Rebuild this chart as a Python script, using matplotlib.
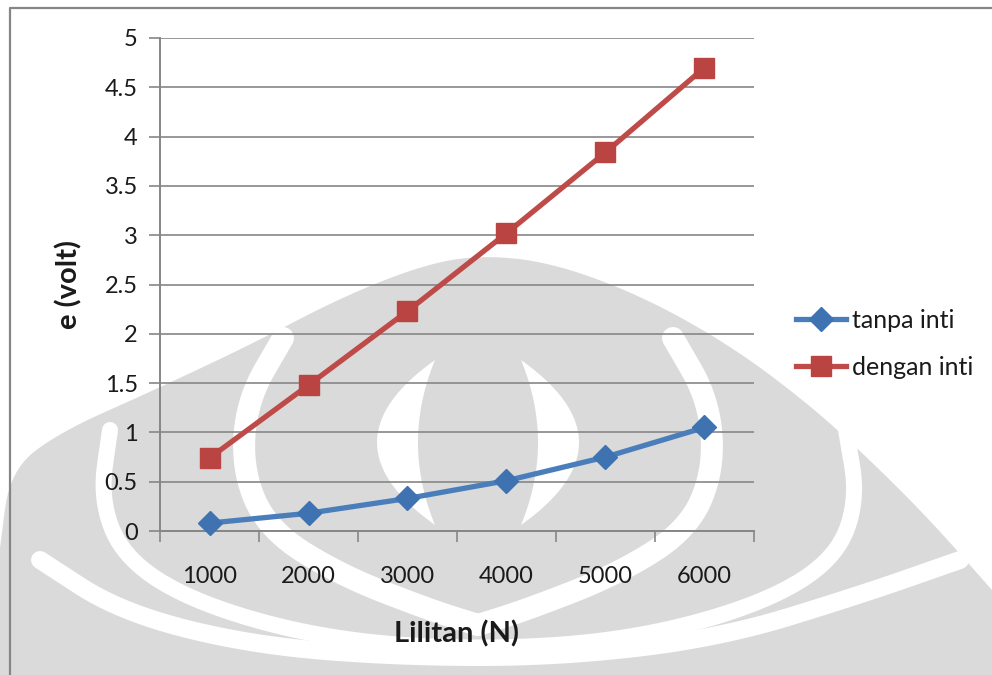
import numpy as np
import matplotlib
matplotlib.use("Agg")
import matplotlib.pyplot as plt
from matplotlib.lines import Line2D

plt.rcParams['font.family'] = ['Lato', 'DejaVu Sans']

# Data
lilitan = ["1000", "2000", "3000", "4000", "5000", "6000"]
tanpa_inti = [0.08, 0.18, 0.33, 0.51, 0.75, 1.05]
dengan_inti = [0.74, 1.48, 2.23, 3.02, 3.84, 4.70]
y_ticks = [0, 0.5, 1, 1.5, 2, 2.5, 3, 3.5, 4, 4.5, 5]
y_tick_labels = ["0", "0.5", "1", "1.5", "2", "2.5", "3", "3.5", "4", "4.5", "5"]

W, H = 992, 675
fig = plt.figure(figsize=(W / 100, H / 100), dpi=100)
fig.patch.set_facecolor("white")

# ---- faint emblem behind the chart (pixel coordinates) ----
bg = fig.add_axes([0, 0, 1, 1], zorder=0)
bg.set_xlim(0, W)
bg.set_ylim(H, 0)
bg.axis("off")
GRAY = "#dadada"


def bez(p0, c, p1, n=40):
    t = np.linspace(0, 1, n)[:, None]
    p0, c, p1 = map(np.asarray, (p0, c, p1))
    return (1 - t) ** 2 * p0 + 2 * (1 - t) * t * c + t ** 2 * p1


def smooth(pts, n=12):
    pts = np.asarray(pts, float)
    out = [pts[0]]
    for i in range(1, len(pts) - 1):
        a = (pts[i - 1] + pts[i]) / 2
        b = (pts[i] + pts[i + 1]) / 2
        out.extend(bez(a, pts[i], b, n))
    out.append(pts[-1])
    return np.array(out)


dome = smooth([(0, 548), (10, 470), (60, 432), (150, 392), (250, 345),
               (340, 298), (420, 266), (478, 255), (550, 262), (640, 295),
               (730, 345), (810, 405), (870, 460), (930, 520), (992, 590)], 10)
dome = np.vstack([dome, [(992, 675), (0, 675)]])
bg.fill(dome[:, 0], dome[:, 1], color=GRAY, lw=0)


def band(pts, width_px):
    pts = np.asarray(pts, float)
    bg.plot(pts[:, 0], pts[:, 1], color="white", lw=width_px * 0.72,
            solid_capstyle="round", solid_joinstyle="round")


# outer ring inside the dome
band(smooth([(110, 430), (100, 500), (125, 560), (200, 605), (330, 640),
             (480, 650), (630, 640), (760, 605), (835, 560), (858, 500),
             (846, 430)]), 16)
# large inner arcs
band(smooth([(283, 338), (247, 400), (242, 470), (268, 530), (340, 575),
             (430, 610), (478, 625)]), 22)
band(smooth([(673, 338), (709, 400), (714, 470), (688, 530), (616, 575),
             (526, 610), (478, 625)]), 22)
# bottom sweep
band(smooth([(40, 560), (120, 612), (250, 645), (400, 657), (560, 657),
             (720, 638), (860, 595), (960, 560)]), 18)


def crescent(top, bottom, outer_x, inner_x):
    cy = (top[1] + bottom[1]) / 2
    outer = bez(top, (2 * outer_x - top[0], cy), bottom)
    inner = bez(bottom, (2 * inner_x - top[0], cy), top)
    poly = np.vstack([outer, inner])
    bg.fill(poly[:, 0], poly[:, 1], color="white", lw=0)


crescent((435, 360), (435, 525), 377, 418)
crescent((521, 360), (521, 525), 579, 538)

# chart frame
fig.add_artist(Line2D([9.5 / W, 9.5 / W, 1.0], [0.0, 1 - 8 / H, 1 - 8 / H],
                      transform=fig.transFigure, color="#868686", lw=1.6))

# ---- main chart ----
left, right, top, bottom = 160, 754, 38, 531
ax = fig.add_axes([left / W, 1 - bottom / H, (right - left) / W, (bottom - top) / H],
                  zorder=1)
ax.patch.set_alpha(0)

x = np.arange(len(lilitan))
ax.set_xlim(-0.5, len(lilitan) - 0.5)
ax.set_ylim(0, 5)

GRID = "#868686"
TXT = "#1a1a1a"
ax.set_yticks(y_ticks)
ax.set_yticklabels(y_tick_labels)
ax.yaxis.grid(True, color=GRID, lw=1.2)
ax.set_axisbelow(True)
ax.tick_params(axis="y", direction="out", length=8, width=1.2, color=GRID,
               pad=8, labelsize=17, labelcolor=TXT)

ax.set_xticks(x)
ax.set_xticklabels(lilitan)
ax.set_xticks(np.arange(len(lilitan) + 1) - 0.5, minor=True)
ax.tick_params(axis="x", which="major", length=0, pad=25, labelsize=17,
               labelcolor=TXT)
ax.tick_params(axis="x", which="minor", direction="out", length=8, width=1.2,
               color=GRID)

for s in ("top", "right"):
    ax.spines[s].set_visible(False)
for s in ("left", "bottom"):
    ax.spines[s].set_color(GRID)
    ax.spines[s].set_linewidth(1.4)

ax.plot(x, tanpa_inti, color="#4a7ebb", lw=3.8, marker="D", ms=12.5,
        mfc="#3f72b0", mec="#3f72b0", label="tanpa inti", zorder=3,
        clip_on=False)
ax.plot(x, dengan_inti, color="#be4b48", lw=3.8, marker="s", ms=14.5,
        mfc="#b94441", mec="#b94441", label="dengan inti", zorder=3,
        clip_on=False)

ax.set_ylabel("e (volt)", fontsize=21, fontweight="bold", labelpad=16,
              color=TXT)
ax.set_xlabel("Lilitan (N)", fontsize=21, fontweight="bold", labelpad=24,
              color=TXT)

leg = fig.legend(handles=ax.get_lines(), loc="center left",
                 bbox_to_anchor=(796 / W, 1 - 344 / H), frameon=False,
                 fontsize=18, handlelength=2.0, handletextpad=0.22,
                 labelspacing=0.95, borderaxespad=0, borderpad=0)
for t in leg.get_texts():
    t.set_color(TXT)

fig.savefig("out.png", dpi=100, facecolor="white")
